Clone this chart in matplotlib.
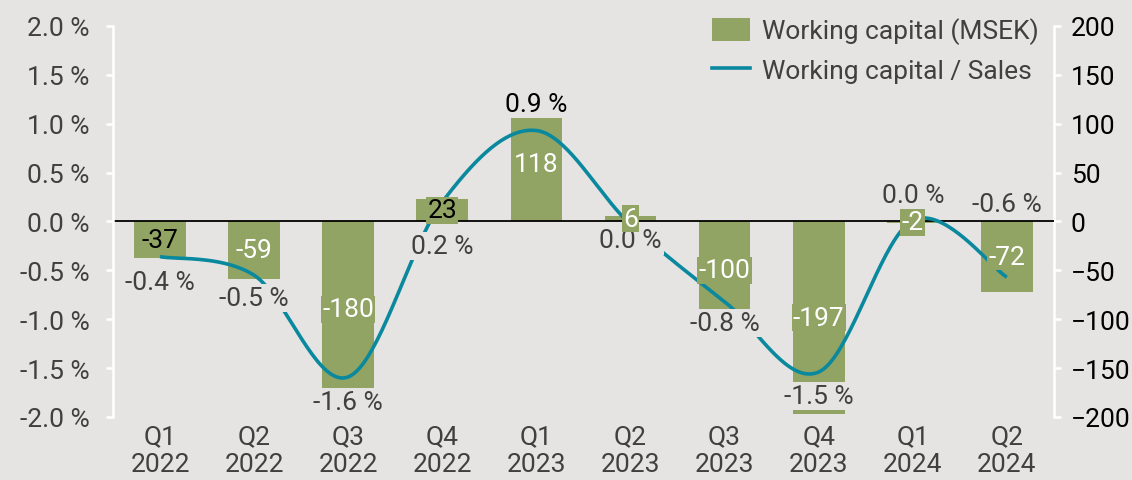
import numpy as np
import matplotlib.pyplot as plt
from matplotlib.patches import Patch
from matplotlib.lines import Line2D

plt.rcParams['font.family'] = ['Roboto', 'DejaVu Sans']

quarters = ["Q1\n2022", "Q2\n2022", "Q3\n2022", "Q4\n2022", "Q1\n2023",
            "Q2\n2023", "Q3\n2023", "Q4\n2023", "Q1\n2024", "Q2\n2024"]
wc_msek = [-37, -59, -180, 23, 118, 6, -100, -197, -2, -72]
wc_sales = [-0.36, -0.55, -1.59, 0.2, 0.93, -0.03, -0.82, -1.54, 0.01, -0.57]
wc_sales_labels = ["-0.4 %", "-0.5 %", "-1.6 %", "0.2 %", "0.9 %",
                   "0.0 %", "-0.8 %", "-1.5 %", "0.0 %", "-0.6 %"]

bg = "#e5e4e2"
green = "#91a463"
teal = "#0a899e"
grey_txt = "#404040"
fs = 19


def smooth(x, y, n=40):
    # catmull-rom style smoothing like the spreadsheet "smoothed line"
    x = np.asarray(x, float)
    y = np.asarray(y, float)
    px = np.concatenate([[x[0]], x, [x[-1]]])
    py = np.concatenate([[y[0]], y, [y[-1]]])
    xs, ys = [], []
    t = np.linspace(0, 1, n)
    for i in range(1, len(px) - 2):
        p0, p1, p2, p3 = (np.array([px[j], py[j]]) for j in (i - 1, i, i + 1, i + 2))
        c1 = p1 + (p2 - p0) / 6
        c2 = p2 - (p3 - p1) / 6
        pts = (np.outer((1 - t) ** 3, p1) + np.outer(3 * (1 - t) ** 2 * t, c1)
               + np.outer(3 * (1 - t) * t ** 2, c2) + np.outer(t ** 3, p2))
        xs.append(pts[:, 0])
        ys.append(pts[:, 1])
    return np.concatenate(xs), np.concatenate(ys)


fig = plt.figure(figsize=(11.32, 4.81), dpi=100, facecolor=bg)
ax = fig.add_axes([0.0998, 0.131, 0.8312, 0.813])
ax2 = ax.twinx()
ax.set_zorder(ax2.get_zorder() + 1)
ax.patch.set_visible(False)
ax2.set_facecolor(bg)

x = np.arange(len(quarters))
bars = ax2.bar(x, wc_msek, width=0.55, color=green, zorder=2)

sx, sy = smooth(x, wc_sales)
ax.plot(sx, sy, color=teal, lw=2.6, solid_capstyle='butt', zorder=3)
ax.axhline(0, color='black', lw=1.3, zorder=2.5)

ax.set_xlim(-0.5, len(quarters) - 0.5)
ax.set_ylim(-2.0, 2.0)
ax2.set_ylim(-200, 200)
ax.set_yticks(np.arange(-2.0, 2.01, 0.5))
ax.set_yticklabels([f"{v:.1f} %" for v in np.arange(-2.0, 2.01, 0.5)])
ax2.set_yticks(np.arange(-200, 201, 50))
ax.set_xticks(x)
ax.set_xticklabels(quarters)

for a in (ax, ax2):
    for s in a.spines.values():
        s.set_visible(False)
ax.spines['left'].set_visible(True)
ax.spines['left'].set_color('white')
ax.spines['left'].set_linewidth(1.8)
ax2.spines['right'].set_visible(True)
ax2.spines['right'].set_color('white')
ax2.spines['right'].set_linewidth(1.8)
ax.tick_params(axis='y', colors='white', labelcolor=grey_txt, labelsize=fs,
               length=5, width=1.8, pad=12)
ax2.tick_params(axis='y', colors='white', labelcolor='black', labelsize=fs,
                length=5, width=1.8, pad=7)
ax.tick_params(axis='x', length=0, labelsize=fs, labelcolor=grey_txt, pad=5)
for lab in ax.get_xticklabels():
    lab.set_linespacing(1.2)

# bar value labels, above the line
bar_txt_colors = ['black', 'white', 'white', 'black', 'white',
                  'white', 'white', 'white', 'white', 'white']
for xi, v, c in zip(x, wc_msek, bar_txt_colors):
    ax.annotate(f"{v}", xy=(xi, v / 2), xycoords=ax2.transData,
                ha='center', va='center', fontsize=fs, color=c, zorder=6,
                bbox=dict(boxstyle='square,pad=0.05', fc=green, ec='none'))

# line value labels
offsets = [-25, -23, -25, -44, 27, -16, -21, -24, 25, 73]
for xi, v, lab, dy in zip(x, wc_sales, wc_sales_labels, offsets):
    col = 'black' if lab == "0.9 %" else grey_txt
    ax.annotate(lab, xy=(xi, v), xytext=(0, dy), textcoords='offset pixels',
                ha='center', va='center', fontsize=fs, color=col, zorder=5,
                bbox=dict(boxstyle='square,pad=0.08', fc=bg, ec='none'))

handles = [Patch(facecolor=green, edgecolor='none'),
           Line2D([0], [0], color=teal, lw=2.6)]
leg = fig.legend(handles, ["Working capital (MSEK)", "Working capital / Sales"],
                 loc='upper right', bbox_to_anchor=(0.934, 1.0), frameon=False,
                 fontsize=fs, handlelength=1.45, handleheight=1.0,
                 handletextpad=0.45, labelspacing=0.5, borderaxespad=0.3)
for t in leg.get_texts():
    t.set_color(grey_txt)

fig.savefig("out.png", dpi=100, facecolor=bg)
